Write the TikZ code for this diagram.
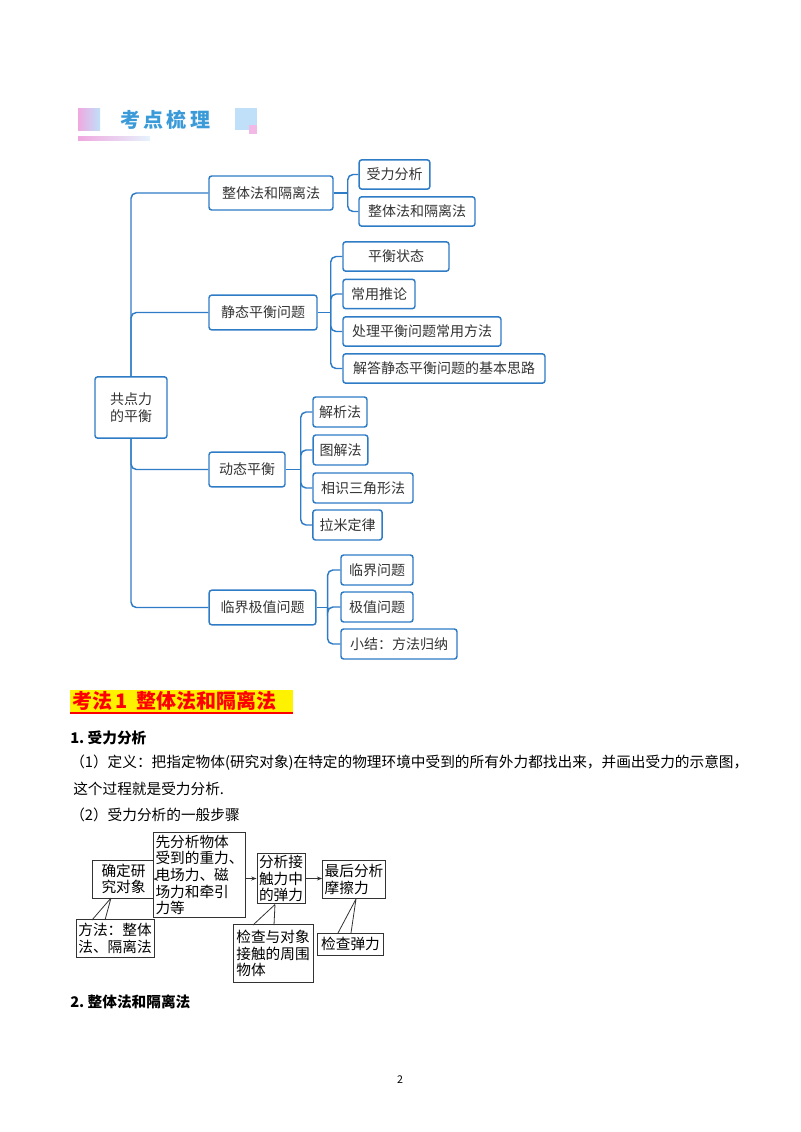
\documentclass[tikz,border=0pt]{standalone}
\usepackage{fontspec}
\setmainfont{Noto Sans CJK SC}
\usetikzlibrary{arrows.meta}
\definecolor{mmblue}{HTML}{2E7BC6}
\definecolor{hdblue}{HTML}{3B9BD8}
\definecolor{hdpink}{HTML}{F0A8E0}
\definecolor{hdlblue}{HTML}{BFE0F8}
\tikzset{
 mm/.style={draw=mmblue,line width=1.1pt,rounded corners=2pt,fill=white,inner sep=0pt,font=\fontsize{10.5}{13}\selectfont,text=black!80},
 conn/.style={draw=mmblue,line width=1.1pt,rounded corners=4pt},
 fb/.style={draw=black!80,line width=0.7pt,fill=white,inner sep=1.5pt,align=left,font=\fontsize{11}{12.5}\selectfont},
 fl/.style={draw=black!80,line width=0.6pt},
 fa/.style={draw=black!80,line width=0.7pt,-{Stealth[length=4pt]}},
 body/.style={anchor=west,inner sep=0pt,font=\fontsize{11}{13}\selectfont}
}
\begin{document}
\begin{tikzpicture}[x=0.75pt,y=-0.75pt]
\useasboundingbox (0,0) rectangle (800,1132);
% header
\shade[left color=hdpink,right color=hdlblue] (78,108) rectangle (100,130);
\shade[left color=hdpink,right color=hdlblue!40] (78,136) rectangle (150,140);
\node[anchor=west,inner sep=0pt,text=hdblue,font=\fontsize{15}{15}\selectfont\bfseries] (hd) at (120,120) {考\,点\,梳\,理};
\fill[hdlblue] (235,108) rectangle (257,130);
\fill[hdpink!80] (249,125) rectangle (257,134);
% mind map
\node[mm,minimum width=54pt,minimum height=46pt,align=left] (root) at (131,407.5) {共点力\\的平衡};
\node[mm,minimum width=93pt,minimum height=25.5pt] (b1) at (271,193) {整体法和隔离法};
\node[mm,minimum width=81pt,minimum height=26pt] (b2) at (263,312.5) {静态平衡问题};
\node[mm,minimum width=57pt,minimum height=26pt] (b3) at (247,469.5) {动态平衡};
\node[mm,minimum width=80pt,minimum height=26pt] (b4) at (262.5,607.5) {临界极值问题};
\node[mm,minimum width=53pt,minimum height=22pt] (l11) at (394.5,174.5) {受力分析};
\node[mm,minimum width=87pt,minimum height=22pt] (l12) at (417,211.5) {整体法和隔离法};
\node[mm,minimum width=79.5pt,minimum height=22pt] (l21) at (396,256.5) {平衡状态};
\node[mm,minimum width=54pt,minimum height=22pt] (l22) at (379,294) {常用推论};
\node[mm,minimum width=118.5pt,minimum height=22pt] (l23) at (422,331.5) {处理平衡问题常用方法};
\node[mm,minimum width=151.5pt,minimum height=22pt] (l24) at (444,368.5) {解答静态平衡问题的基本思路};
\node[mm,minimum width=40.5pt,minimum height=22.5pt] (l31) at (340,412) {解析法};
\node[mm,minimum width=41pt,minimum height=22.5pt] (l32) at (340.5,450) {图解法};
\node[mm,minimum width=75pt,minimum height=22.5pt] (l33) at (363,488) {相识三角形法};
\node[mm,minimum width=52pt,minimum height=22.5pt] (l34) at (347.5,525) {拉米定律};
\node[mm,minimum width=54pt,minimum height=22.5pt] (l41) at (377,570) {临界问题};
\node[mm,minimum width=54pt,minimum height=22.5pt] (l42) at (377,607) {极值问题};
\node[mm,minimum width=87pt,minimum height=22.5pt] (l43) at (399,644) {小结：方法归纳};
\begin{scope}[on background layer/.style={}]
\draw[conn] (b1.west) -| (root.north);
\draw[conn] (b2.west) -| (root.north);
\draw[conn] (b3.west) -| (root.south);
\draw[conn] (b4.west) -| (root.south);
\draw[conn] (b1.east) -- ++(14,0) coordinate (j1);
\draw[conn] (j1) |- (l11.west); \draw[conn] (j1) |- (l12.west);
\draw[conn] (b2.east) -- ++(13,0) coordinate (j2);
\foreach \l in {l21,l22,l23,l24} \draw[conn] (j2) |- (\l.west);
\draw[conn] (b3.east) -- ++(15,0) coordinate (j3);
\foreach \l in {l31,l32,l33,l34} \draw[conn] (j3) |- (\l.west);
\draw[conn] (b4.east) -- ++(11,0) coordinate (j4);
\foreach \l in {l41,l42,l43} \draw[conn] (j4) |- (\l.west);
\end{scope}
% section title
\fill[yellow] (70,690) rectangle (293,714);
\node[anchor=west,inner sep=0pt,text=red,font=\fontsize{15}{15}\selectfont\bfseries] (st) at (72,701) {考法\,1\ \ 整体法和隔离法};
\draw[red,line width=1pt] (70,713) -- (293,713);
\node[body,font=\fontsize{11}{13}\selectfont\bfseries] (h1) at (70,738) {1.\ 受力分析};
\node[body] (p1) at (70,763) {（1）定义：把指定物体(研究对象)在特定的物理环境中受到的所有外力都找出来，并画出受力的示意图，};
\node[body] (p2) at (73,789) {这个过程就是受力分析.};
\node[body] (p3) at (70,815) {（2）受力分析的一般步骤};
% flowchart
\node[fb,minimum width=47pt,minimum height=28.5pt] (A) at (123.5,879) {确定研\\究对象};
\node[fb,minimum width=64pt,minimum height=63pt] (B) at (199.5,875) {先分析物体\\受到的重力、\\电场力、磁\\场力和牵引\\力等};
\node[fb,minimum width=36pt,minimum height=38pt] (C) at (281,878.5) {分析接\\触力中\\的弹力};
\node[fb,minimum width=46.5pt,minimum height=29pt] (D) at (354,879.5) {最后分析\\摩擦力};
\node[fb,minimum width=58.5pt,minimum height=28pt] (E) at (115,938.5) {方法：整体\\法、隔离法};
\node[fb,minimum width=60pt,minimum height=43pt] (F) at (273,953.5) {检查与对象\\接触的周围\\物体};
\node[fb,minimum width=49pt,minimum height=16.5pt] (G) at (350.5,944) {检查弹力};
\draw[fa] (A.east) -- (A.east -| B.west);
\draw[fa] (B.east |- C.west) -- (C.west);
\draw[fa] (C.east) -- (C.east -| D.west);
\coordinate (ca) at (111,898); \coordinate (cb) at (275,904.5); \coordinate (cc) at (356,899);
\draw[fl] (ca) -- (92,920) (ca) -- (105,920);
\draw[fl] (cb) -- (253,925) (cb) -- (274,925);
\draw[fl] (cc) -- (338,933) (cc) -- (351,933);
\node[body,font=\fontsize{11}{13}\selectfont\bfseries] (h2) at (70,1002) {2.\ 整体法和隔离法};
\node[inner sep=0pt,font=\fontsize{8}{8}\selectfont] (pg) at (400,1080) {2};
\end{tikzpicture}
\end{document}
